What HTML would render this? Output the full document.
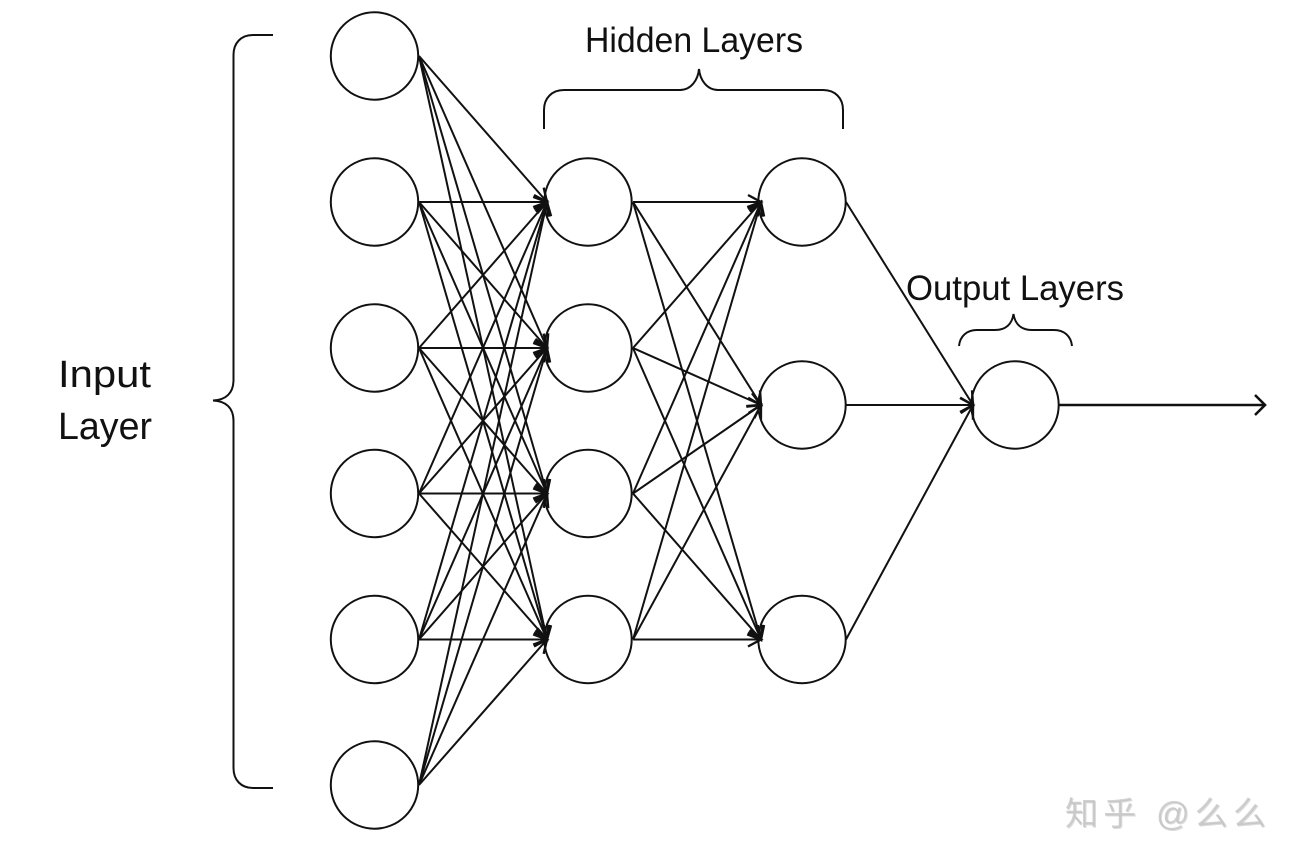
<!DOCTYPE html>
<html>
<head>
<meta charset="utf-8">
<style>
html,body{margin:0;padding:0;background:#fff;width:1302px;height:866px;overflow:hidden}
svg{display:block}
text{font-family:"Liberation Sans","Noto Sans CJK SC",sans-serif;fill:#111}
</style>
</head>
<body>
<svg width="1302" height="866" viewBox="0 0 1302 866" xmlns="http://www.w3.org/2000/svg">
<defs>
<marker id="a" markerUnits="userSpaceOnUse" markerWidth="30" markerHeight="30" refX="16" refY="15" orient="auto">
<path d="M3,8 L16,15 L3,22" fill="none" stroke="#111" stroke-width="2.4"/>
</marker>
<marker id="b" markerUnits="userSpaceOnUse" markerWidth="30" markerHeight="30" refX="15" refY="15" orient="auto">
<path d="M5,5 L15,15 L5,25" fill="none" stroke="#111" stroke-width="2.6"/>
</marker>
</defs>
<rect width="1302" height="866" fill="#fff"/>

<g fill="#fff" stroke="#111" stroke-width="2">
<circle cx="374.500" cy="56" r="43.700"/>
<circle cx="374.500" cy="202" r="43.700"/>
<circle cx="374.500" cy="348" r="43.700"/>
<circle cx="374.500" cy="493.500" r="43.700"/>
<circle cx="374.500" cy="639.500" r="43.700"/>
<circle cx="374.500" cy="785" r="43.700"/>
<circle cx="588" cy="202" r="43.700"/>
<circle cx="588" cy="348" r="43.700"/>
<circle cx="588" cy="493.500" r="43.700"/>
<circle cx="588" cy="639.500" r="43.700"/>
<circle cx="802" cy="202" r="43.700"/>
<circle cx="802" cy="405" r="43.700"/>
<circle cx="802" cy="639.500" r="43.700"/>
<circle cx="1015" cy="405" r="43.700"/>
</g>

<g fill="none" stroke="#111" stroke-width="2" marker-end="url(#a)">
<path d="M419,56L547,202"/><path d="M419,56L547,348"/><path d="M419,56L547,493.500"/><path d="M419,56L547,639.500"/>
<path d="M419,202L547,202"/><path d="M419,202L547,348"/><path d="M419,202L547,493.500"/><path d="M419,202L547,639.500"/>
<path d="M419,348L547,202"/><path d="M419,348L547,348"/><path d="M419,348L547,493.500"/><path d="M419,348L547,639.500"/>
<path d="M419,493.500L547,202"/><path d="M419,493.500L547,348"/><path d="M419,493.500L547,493.500"/><path d="M419,493.500L547,639.500"/>
<path d="M419,639.500L547,202"/><path d="M419,639.500L547,348"/><path d="M419,639.500L547,493.500"/><path d="M419,639.500L547,639.500"/>
<path d="M419,785L547,202"/><path d="M419,785L547,348"/><path d="M419,785L547,493.500"/><path d="M419,785L547,639.500"/>

<path d="M633,202L761,202"/><path d="M633,202L761,405"/><path d="M633,202L761,639.500"/>
<path d="M633,348L761,202"/><path d="M633,348L761,405"/><path d="M633,348L761,639.500"/>
<path d="M633,493.500L761,202"/><path d="M633,493.500L761,405"/><path d="M633,493.500L761,639.500"/>
<path d="M633,639.500L761,202"/><path d="M633,639.500L761,405"/><path d="M633,639.500L761,639.500"/>

<path d="M846,202L973,405"/><path d="M846,405L973,405"/><path d="M846,639.500L973,405"/>
</g>
<path d="M1059,405L1265,405" fill="none" stroke="#111" stroke-width="2.600" marker-end="url(#b)"/>

<g fill="none" stroke="#111" stroke-width="2">
<path d="M273,35L253,35C241,35 233.500,43 233.500,55L233.500,380C233.500,393 226,400 213,400.500C226,401 233.500,408 233.500,421L233.500,768C233.500,780 241,788 253,788L273,788"/>
<path d="M544,129L544,110C544,98 552,90 564,90L680,90C691,90 698,80 699,69C700,80 707,90 718,90L823,90C835,90 843,98 843,110L843,129"/>
<path d="M959,346C960,336 967,330 977,330L995,330C1006,330 1012,324 1013.500,314C1015,324 1021,330 1032,330L1054,330C1064,330 1071,336 1072,346"/>
</g>

<g font-size="35">
<text x="585" y="52" textLength="218" lengthAdjust="spacingAndGlyphs">Hidden Layers</text>
<text x="906" y="300" textLength="218" lengthAdjust="spacingAndGlyphs">Output Layers</text>
</g>
<g font-size="38">
<text x="58" y="387" textLength="93" lengthAdjust="spacingAndGlyphs">Input</text>
<text x="58" y="439" textLength="94" lengthAdjust="spacingAndGlyphs">Layer</text>
</g>

<g font-size="33">
<text x="1066" y="826" textLength="201" lengthAdjust="spacing" style="fill:#dcdcdc">知乎 @么么</text>
<text x="1065" y="825" textLength="201" lengthAdjust="spacing" style="fill:#c2c2c2;opacity:.75">知乎 @么么</text>
</g>
</svg>
</body>
</html>
